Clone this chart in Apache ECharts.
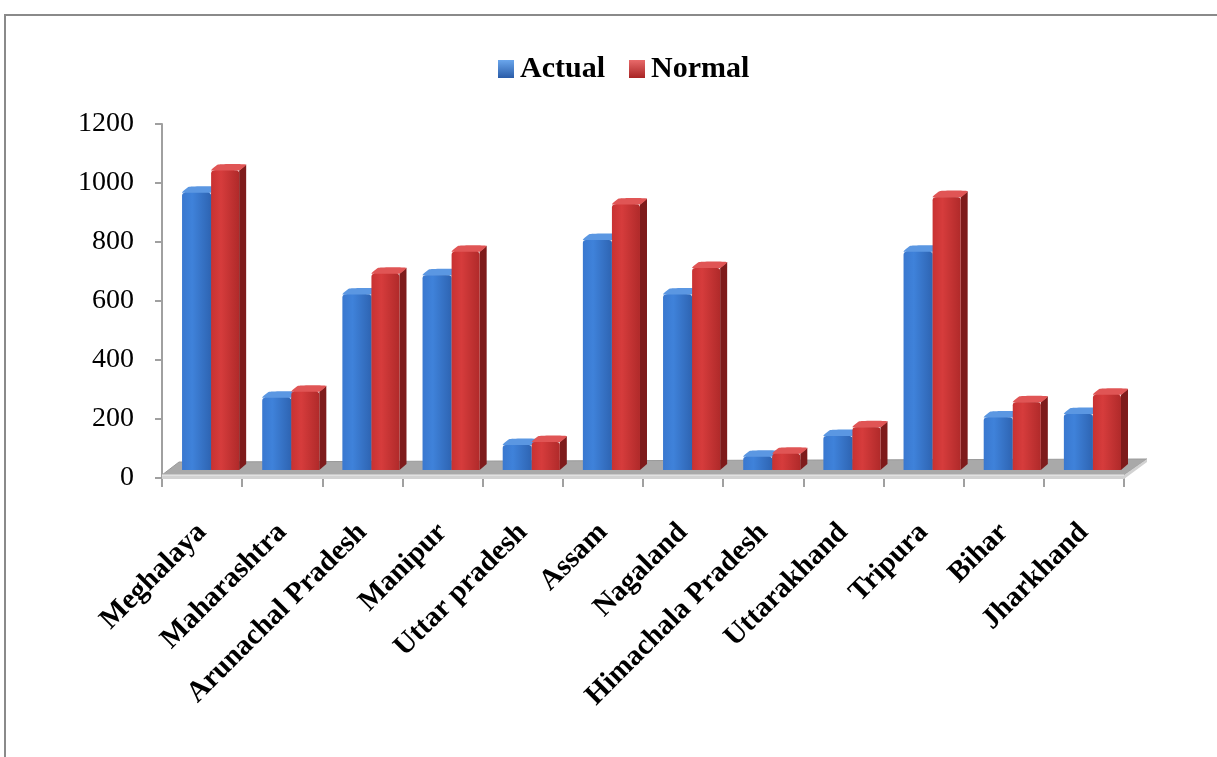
<!DOCTYPE html>
<html><head><meta charset="utf-8">
<script src="https://cdn.jsdelivr.net/npm/echarts@6/dist/echarts.min.js"></script>
<style>html,body{margin:0;padding:0;background:#fff}#c{width:1217px;height:757px}</style>
</head><body><div id="c"></div>
<script>
// ---- data ----
const categories = ['Meghalaya','Maharashtra','Arunachal Pradesh','Manipur','Uttar pradesh','Assam','Nagaland','Himachala Pradesh','Uttarakhand','Tripura','Bihar','Jharkhand'];
const seriesNames = ['Actual','Normal'];
const actual = [940, 245, 595, 660, 85, 780, 595, 45, 115, 740, 178, 190];
const normal = [1015, 265, 665, 740, 95, 900, 685, 55, 145, 925, 230, 255];
const yMin = 0, yMax = 1200, yInterval = 200;

// ---- style constants ----
const FLOOR_SHIFT = 8;   // bars stand on the middle of the floor
const DEPTH_X = 7, DEPTH_Y = 6;
const FONT = '"Liberation Serif","Times New Roman",serif';

const blueFront = new echarts.graphic.LinearGradient(0,0,1,0,[{offset:0,color:'#3a78cf'},{offset:0.35,color:'#3f82da'},{offset:1,color:'#2e64b2'}]);
const blueCap = '#5b97e2';
const blueSide = '#24508f';
const redFront = new echarts.graphic.LinearGradient(0,0,1,0,[{offset:0,color:'#c83232'},{offset:0.35,color:'#d63c3c'},{offset:1,color:'#b02a2a'}]);
const redCap = '#e05555';
const redSide = '#7e1b1b';
const blueLegend = new echarts.graphic.LinearGradient(0,0,0,1,[{offset:0,color:'#6aa6ec'},{offset:1,color:'#2a5ca8'}]);
const redLegend = new echarts.graphic.LinearGradient(0,0,0,1,[{offset:0,color:'#e86a6a'},{offset:1,color:'#a82424'}]);

function barRenderer(offFrac, wFrac, front, cap, side){
  return function(params, api){
    const i = api.value(0), v = api.value(1);
    const pTop = api.coord([i, v]);
    const p0 = api.coord([i, 0]);
    const bw = api.size([1, 0])[0];
    const base = p0[1] - FLOOR_SHIFT;
    const h = p0[1] - pTop[1];
    const x = p0[0] + offFrac * bw;
    const w = wFrac * bw;
    const top = base - h;
    return {
      type: 'group',
      children: [
        {type:'polygon', shape:{points:[[x+w,top],[x+w+DEPTH_X,top-DEPTH_Y],[x+w+DEPTH_X,base-DEPTH_Y],[x+w,base]]}, style:{fill:side}},
        {type:'polygon', shape:{points:[[x,top],[x+DEPTH_X,top-DEPTH_Y],[x+w+DEPTH_X,top-DEPTH_Y],[x+w,top]], smooth:0.15}, style:{fill:cap}},
        {type:'rect', shape:{x:x, y:top, width:w, height:h, r:[3,3,0,0]}, style:{fill:front}}
      ]
    };
  };
}

function floorRenderer(params, api){
  const cs = params.coordSys;
  const fy = cs.y + cs.height;
  const x0 = cs.x, x1 = cs.x + cs.width;
  return {
    type:'group',
    children:[
      {type:'polygon', shape:{points:[[x0,fy-3],[x1,fy-3],[x1+23,fy-19],[x0+17,fy-16]]}, style:{fill:'#a9a9a9', stroke:'#9a9a9a', lineWidth:1}},
      {type:'polygon', shape:{points:[[x0,fy-3],[x1,fy-3],[x1+23,fy-19],[x1+23,fy-16],[x1,fy+1],[x0,fy+1]]}, style:{fill:'#d2d2d2'}},
      {type:'line', shape:{x1:x0, y1:fy-3, x2:x1, y2:fy-3}, style:{stroke:'#f0f0f0', lineWidth:1}}
    ]
  };
}

const chart = echarts.init(document.getElementById('c'), null, {renderer:'canvas'});
chart.setOption({
  backgroundColor:'#ffffff',
  animation:false,
  graphic:[{type:'polyline', shape:{points:[[5,757],[5,15],[1217,15]]}, style:{stroke:'#8a8a8a', lineWidth:2, fill:null}, silent:true}],
  legend:{
    data: seriesNames,
    top: 49, left: 493,
    itemWidth: 16, itemHeight: 18, itemGap: 24,
    icon: 'rect',
    textStyle:{fontFamily:FONT, fontWeight:'bold', fontSize:30, color:'#000', padding:[0,0,0,1]}
  },
  grid:{left:162, right:93, top:124, bottom:279, containLabel:false},
  xAxis:{
    type:'category', data:categories,
    axisLine:{show:false},
    axisTick:{show:true, length:9, lineStyle:{color:'#a0a0a0', width:2}},
    axisLabel:{interval:0, rotate:45, margin:50, fontFamily:FONT, fontWeight:'bold', fontSize:29, color:'#000'},
    splitLine:{show:false}
  },
  yAxis:{
    type:'value', min:yMin, max:yMax, interval:yInterval,
    axisLine:{show:true, lineStyle:{color:'#a0a0a0', width:2}},
    axisTick:{show:true, length:7, lineStyle:{color:'#a0a0a0', width:2}},
    axisLabel:{margin:28, fontFamily:FONT, fontSize:28, color:'#000', formatter: function(v){ return String(v); }},
    splitLine:{show:false}
  },
  series:[
    {type:'custom', name:'floor', silent:true, z:1, renderItem:floorRenderer, data:[[0,0]], encode:{x:0,y:1}},
    {type:'custom', name:'Actual', z:2, itemStyle:{color:blueLegend}, renderItem:barRenderer(-0.25, 0.3625, blueFront, blueCap, blueSide), data:actual.map((v,i)=>[i,v]), encode:{x:0,y:1}},
    {type:'custom', name:'Normal', z:3, itemStyle:{color:redLegend}, renderItem:barRenderer(0.1125, 0.35, redFront, redCap, redSide), data:normal.map((v,i)=>[i,v]), encode:{x:0,y:1}}
  ]
});
</script>
</body></html>
